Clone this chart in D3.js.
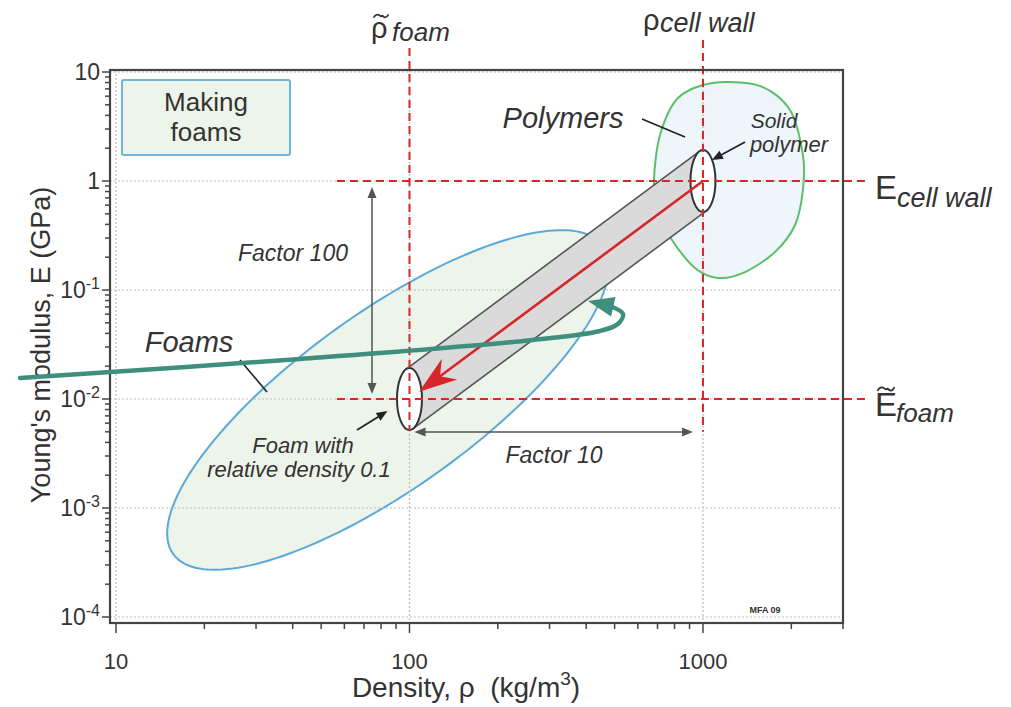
<!DOCTYPE html>
<html>
<head>
<meta charset="utf-8">
<script src="https://cdn.jsdelivr.net/npm/d3@7"></script>
<style>
  body { margin: 0; background: #fff; }
  svg text { font-family: "Liberation Sans Narrow", "Arial Narrow", "Liberation Sans", Arial, sans-serif; fill: #333; }
  .it { font-style: italic; }
</style>
</head>
<body>
<svg id="chart" width="1011" height="707"></svg>
<script>
// ---- axis ticks ----
const densityTicks = [10, 100, 1000];
const densityTickLabels = ["10", "100", "1000"];
const modulusTicks = [1e-4, 1e-3, 1e-2, 1e-1, 1, 10];
const modulusTickBase = ["10", "10", "10", "10", "1", "10"];
const modulusTickExp = ["-4", "-3", "-2", "-1", "", ""];

// ---- reference states (kg/m3, GPa) ----
const solidDensity = 1000, solidModulus = 1;
const foamDensity = 100, foamModulus = 0.01;

// extents of the dashed reference lines
const refLineModulusSpan = [[16.6, 0.0052], [19.7, 0.005]];   // for density 100, 1000
const refLineDensitySpan = [56.6, 3700];                      // for modulus 1, 0.01

// ---- property envelopes ----
// Foams: ellipse in log-log space (centre, end of major semi-axis, end of minor semi-axis)
const foamCenter = [84.5, 0.0098];
const foamMajorEnd = [456, 0.2535];
const foamMinorEnd = [126, 0.00216];

// Polymers: closed outline
const polymerDensity = [1074, 1564, 1979, 2191, 2191, 2059, 1759, 1390, 1125, 939, 784, 703, 681, 714, 822];
const polymerModulus = [7.93, 7.44, 4.48, 1.73, 0.827, 0.395, 0.223, 0.146, 0.129, 0.159, 0.288, 0.542, 1.02, 2.64, 5.77];

// teal pointer stroke
const pointerDensity = [4.71, 42.4, 263.5, 445.7, 513, 534, 482];
const pointerModulus = [0.0156, 0.0233, 0.0348, 0.0421, 0.0488, 0.0603, 0.0713];
const pointerTip = [405.6, 0.0792];

// ---- scales ----
const svg = d3.select("#chart");
const x = d3.scaleLog().domain([10, 3000]).range([116, 843]);
const y = d3.scaleLog().domain([1e-4, 10]).range([617, 72]);
const frame = { left: 110, right: 843, top: 70, bottom: 623 };

const RED = "#d7262b", GRID = "#bdbdbd";

// arrowhead polygon: tip point, direction (unit) the arrow points to
function headPts(tx, ty, ux, uy, len, half, notch) {
  const bx = tx - ux * len, by = ty - uy * len;
  const nx = -uy, ny = ux;
  const pts = [[tx, ty], [bx + nx * half, by + ny * half]];
  if (notch) pts.push([tx - ux * notch, ty - uy * notch]);
  pts.push([bx - nx * half, by - ny * half]);
  return pts;
}
function drawHead(g, tx, ty, ux, uy, len, half, notch, color) {
  g.append("polygon").attr("points", headPts(tx, ty, ux, uy, len, half, notch).map(p => p.join(",")).join(" "))
    .attr("fill", color);
}
function arrowLine(g, x1, y1, x2, y2, color, w, heads, len = 10, half = 4) {
  const dx = x2 - x1, dy = y2 - y1, L = Math.hypot(dx, dy), ux = dx / L, uy = dy / L;
  const s = heads.start ? len * 0.8 : 0, e = heads.end ? len * 0.8 : 0;
  g.append("line").attr("x1", x1 + ux * s).attr("y1", y1 + uy * s)
    .attr("x2", x2 - ux * e).attr("y2", y2 - uy * e)
    .attr("stroke", color).attr("stroke-width", w);
  if (heads.end) drawHead(g, x2, y2, ux, uy, len, half, 0, color);
  if (heads.start) drawHead(g, x1, y1, -ux, -uy, len, half, 0, color);
}
// small wave drawn over a symbol (tilde accent)
function tilde(cx, cy, w) {
  const h = w * 0.22;
  svg.append("path")
    .attr("d", `M${cx - w / 2},${cy + h * 0.5} C${cx - w / 4},${cy - h * 1.6} ${cx},${cy + h * 1.6 - h} ${cx + w * 0.05},${cy} S${cx + w / 4},${cy + h * 1.6} ${cx + w / 2},${cy - h * 0.5}`)
    .attr("fill", "none").attr("stroke", "#333").attr("stroke-width", 1.8);
}

// ---- envelopes ----
const env = svg.append("g");
const lc = [Math.log10(foamCenter[0]), Math.log10(foamCenter[1])];
const l1 = [Math.log10(foamMajorEnd[0]) - lc[0], Math.log10(foamMajorEnd[1]) - lc[1]];
const l2 = [Math.log10(foamMinorEnd[0]) - lc[0], Math.log10(foamMinorEnd[1]) - lc[1]];
const foamOutline = d3.range(0, 2 * Math.PI, Math.PI / 90).map(t => [
  Math.pow(10, lc[0] + Math.cos(t) * l1[0] + Math.sin(t) * l2[0]),
  Math.pow(10, lc[1] + Math.cos(t) * l1[1] + Math.sin(t) * l2[1])
]);
env.append("path").attr("d", d3.line().x(d => x(d[0])).y(d => y(d[1])).curve(d3.curveLinearClosed)(foamOutline))
  .attr("fill", "#edf4e9").attr("stroke", "#5aa9d9").attr("stroke-width", 2);

const polyPts = polymerDensity.map((d, i) => [d, polymerModulus[i]]);
env.append("path").attr("d", d3.line().x(d => x(d[0])).y(d => y(d[1])).curve(d3.curveCardinalClosed.tension(0.1))(polyPts))
  .attr("fill", "#eef6fb").attr("stroke", "#5cbf6c").attr("stroke-width", 2);

// ---- grid ----
const grid = svg.append("g").attr("stroke", GRID).attr("stroke-width", 1.2).attr("stroke-dasharray", "2,2");
densityTicks.forEach(v => grid.append("line").attr("x1", x(v)).attr("x2", x(v)).attr("y1", frame.top).attr("y2", frame.bottom));
modulusTicks.forEach(v => grid.append("line").attr("x1", frame.left).attr("x2", frame.right).attr("y1", y(v)).attr("y2", y(v)));

// ---- legend box ----
svg.append("rect").attr("x", 122).attr("y", 80).attr("width", 168).attr("height", 75).attr("rx", 2)
  .attr("fill", "#edf4ea").attr("stroke", "#6cb6de").attr("stroke-width", 2);
svg.append("text").attr("x", 206).attr("y", 111).attr("text-anchor", "middle").attr("font-size", 26).text("Making");
svg.append("text").attr("x", 206).attr("y", 141).attr("text-anchor", "middle").attr("font-size", 26).text("foams");

// ---- cylinder from solid to foam ----
const cyl = svg.append("g");
const fx = x(foamDensity), fy = y(foamModulus), sx = x(solidDensity), sy = y(solidModulus);
const rx = 12.5, ry = 31;
const ddx = sx - fx, ddy = sy - fy;
const t0 = Math.atan2(-ry * ddx, rx * ddy);
const tp = [t0, t0 + Math.PI].map(t => [rx * Math.cos(t), ry * Math.sin(t)]);
const band = [[fx + tp[0][0], fy + tp[0][1]], [sx + tp[0][0], sy + tp[0][1]], [sx + tp[1][0], sy + tp[1][1]], [fx + tp[1][0], fy + tp[1][1]]];
cyl.append("polygon").attr("points", band.map(p => p.join(",")).join(" ")).attr("fill", "#dadada");
cyl.append("line").attr("x1", band[0][0]).attr("y1", band[0][1]).attr("x2", band[1][0]).attr("y2", band[1][1]).attr("stroke", "#555").attr("stroke-width", 1.6);
cyl.append("line").attr("x1", band[3][0]).attr("y1", band[3][1]).attr("x2", band[2][0]).attr("y2", band[2][1]).attr("stroke", "#555").attr("stroke-width", 1.6);
[[fx, fy], [sx, sy]].forEach(c => cyl.append("ellipse").attr("cx", c[0]).attr("cy", c[1]).attr("rx", rx).attr("ry", ry)
  .attr("fill", "#fff").attr("stroke", "#333").attr("stroke-width", 2));

// ---- dashed reference lines ----
const dash = svg.append("g").attr("stroke", RED).attr("stroke-width", 2).attr("stroke-dasharray", "8,5");
[foamDensity, solidDensity].forEach((v, i) => dash.append("line").attr("x1", x(v)).attr("x2", x(v))
  .attr("y1", y(refLineModulusSpan[i][0])).attr("y2", y(refLineModulusSpan[i][1])));
[solidModulus, foamModulus].forEach(v => dash.append("line").attr("y1", y(v)).attr("y2", y(v))
  .attr("x1", x(refLineDensitySpan[0])).attr("x2", x(refLineDensitySpan[1])));

// ---- red arrow solid -> foam ----
{
  const L = Math.hypot(fx - sx, fy - sy), ux = (fx - sx) / L, uy = (fy - sy) / L;
  const tx = fx - ux * 12, ty = fy - uy * 12;
  svg.append("line").attr("x1", sx).attr("y1", sy).attr("x2", tx - ux * 24).attr("y2", ty - uy * 24)
    .attr("stroke", RED).attr("stroke-width", 2.6);
  drawHead(svg, tx, ty, ux, uy, 38, 13, 26, RED);
}

// ---- annotations ----
const ann = svg.append("g");
// Factor 100
arrowLine(ann, 372, y(solidModulus) + 6, 372, y(foamModulus) - 5, "#555", 1.5, { start: true, end: true }, 11, 4.5);
// Factor 10
arrowLine(ann, fx + 5, 432, x(solidDensity) - 10, 432, "#555", 1.5, { start: true, end: true }, 11, 4.5);
// foam pointer
arrowLine(ann, 357, 430, fx - 22, 411, "#222", 1.8, { end: true }, 11, 4.5);
// solid polymer pointer
arrowLine(ann, 745, 142, sx + 9, 160, "#222", 1.8, { end: true }, 11, 4.5);
// leaders
ann.append("line").attr("x1", 642).attr("y1", 119).attr("x2", 685).attr("y2", 137).attr("stroke", "#222").attr("stroke-width", 1.6);
ann.append("line").attr("x1", 240).attr("y1", 360).attr("x2", 267).attr("y2", 392).attr("stroke", "#222").attr("stroke-width", 1.6);

function label(txt, px, py, size, anchor = "middle", italic = true) {
  return svg.append("text").attr("x", px).attr("y", py).attr("text-anchor", anchor)
    .attr("font-size", size).attr("class", italic ? "it" : null).text(txt);
}
label("Factor 100", 293, 261, 23);
label("Foams", 189, 352, 29);
label("Polymers", 563, 128, 29);
label("Solid", 774, 128, 21);
label("polymer", 789, 152, 22);
label("Foam with", 303, 453, 22);
label("relative density 0.1", 299, 477, 22);
label("Factor 10", 554, 463, 23);

// reference symbols
label("ρ", 371, 38, 29, "start", false);
tilde(381, 16, 15);
label("foam", 392, 41, 26, "start");
label("ρ", 643, 30, 29, "start", false);
label("cell wall", 660, 32, 27, "start");
label("E", 875, 199, 33, "start", false);
label("cell wall", 897, 207, 27, "start");
label("E", 875, 416, 33, "start", false);
tilde(886, 389, 17);
label("foam", 896, 422, 26, "start");

svg.append("text").attr("x", 765).attr("y", 613).attr("text-anchor", "middle").attr("font-size", 9)
  .attr("font-weight", "bold").text("MFA 09");

// ---- frame & axes ----
const ax = svg.append("g").attr("stroke", "#444");
ax.append("rect").attr("x", frame.left).attr("y", frame.top).attr("width", frame.right - frame.left)
  .attr("height", frame.bottom - frame.top).attr("fill", "none").attr("stroke-width", 2.2);
x.ticks().forEach(v => {
  const major = densityTicks.includes(v);
  ax.append("line").attr("x1", x(v)).attr("x2", x(v)).attr("y1", frame.bottom).attr("y2", frame.bottom + (major ? 10 : 6)).attr("stroke-width", 1.5);
});
y.ticks().forEach(v => {
  const major = modulusTicks.some(m => Math.abs(m / v - 1) < 1e-6);
  ax.append("line").attr("x1", frame.left).attr("x2", frame.left - (major ? 8 : 5)).attr("y1", y(v)).attr("y2", y(v)).attr("stroke-width", 1.5);
});
densityTicks.forEach((v, i) => svg.append("text").attr("x", x(v)).attr("y", 669).attr("text-anchor", "middle")
  .attr("font-size", 22).text(densityTickLabels[i]));
modulusTicks.forEach((v, i) => {
  const t = svg.append("text").attr("x", 100).attr("y", y(v) + 8).attr("text-anchor", "end").attr("font-size", 23);
  t.append("tspan").text(modulusTickBase[i]);
  if (modulusTickExp[i]) t.append("tspan").attr("dy", -9).attr("font-size", 16).text(modulusTickExp[i]);
});

// axis titles
svg.append("text").attr("transform", "translate(50,345) rotate(-90)").attr("text-anchor", "middle")
  .attr("font-size", 27).text("Young's modulus, E (GPa)");
{
  const t = svg.append("text").attr("x", 466).attr("y", 697).attr("text-anchor", "middle").attr("font-size", 28);
  t.append("tspan").text("Density, ρ\u00a0\u00a0(kg/m");
  t.append("tspan").attr("dy", -12).attr("font-size", 19).text("3");
  t.append("tspan").attr("dy", 12).text(")");
}

// ---- teal pointer ----
{
  const pts = pointerDensity.map((d, i) => [x(d), y(pointerModulus[i])]);
  svg.append("path").attr("d", d3.line().curve(d3.curveCatmullRom)(pts))
    .attr("fill", "none").attr("stroke", "#3f8f7e").attr("stroke-width", 4.5).attr("stroke-linecap", "round");
  const last = pts[pts.length - 1], tx = x(pointerTip[0]), ty = y(pointerTip[1]);
  const L = Math.hypot(tx - last[0], ty - last[1]);
  drawHead(svg, tx, ty, (tx - last[0]) / L, (ty - last[1]) / L, 26, 10, 0, "#3f8f7e");
}
</script>
</body>
</html>
